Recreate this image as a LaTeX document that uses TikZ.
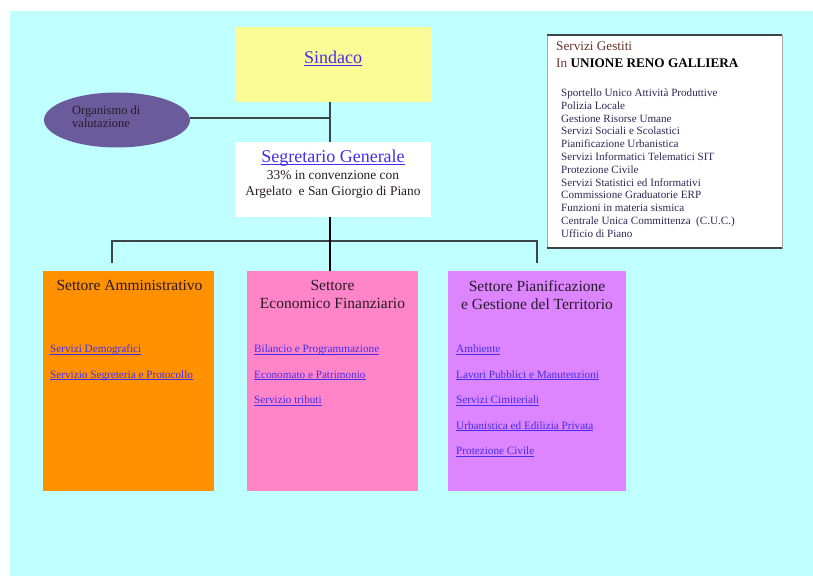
\documentclass[tikz,border=0pt]{standalone}
\usepackage{fontspec}
\setmainfont{Liberation Serif}
\usetikzlibrary{shapes.geometric}

\definecolor{sky}{RGB}{192,255,255}
\definecolor{lemon}{RGB}{250,250,150}
\definecolor{amber}{RGB}{255,145,0}
\definecolor{rose}{RGB}{255,133,200}
\definecolor{lilac}{RGB}{220,133,255}
\definecolor{plum}{RGB}{106,92,156}
\definecolor{href}{RGB}{70,45,235}
\definecolor{ink}{RGB}{40,25,40}
\definecolor{navy}{RGB}{45,40,85}
\definecolor{rust}{RGB}{105,50,40}
\definecolor{steel}{RGB}{60,70,70}

\newcommand{\lnk}[1]{\textcolor{href}{\setbox0=\hbox{#1}\rlap{\rule[-0.3ex]{\wd0}{0.09ex}}\box0}}
\newcommand{\fs}[2]{\fontsize{#1}{#2}\selectfont}

\begin{document}
\begin{tikzpicture}[
        x=1pt, y=-1pt,
        box/.style={rectangle, inner sep=0pt, outer sep=0pt},
        head/.style={anchor=north, align=center, text=ink, inner sep=0pt, font=\fs{15.5}{18}},
        item/.style={anchor=base west, inner sep=0pt, font=\fs{11.2}{13}},
        wire/.style={draw=steel, line width=1.2pt},
    ]

    \useasboundingbox (0,0) rectangle (813,577);
    \fill[sky] (10,11) rectangle (813,576);

    % boxes
    \node[box, fill=lemon, minimum width=196pt, minimum height=75pt] (1) at (333,64.5) {};
    \node[box, fill=white, minimum width=196pt, minimum height=75pt] (2) at (333,179.5) {};
    \node[box, fill=amber, minimum width=171pt, minimum height=220pt] (3) at (128.5,381) {};
    \node[box, fill=rose, minimum width=171pt, minimum height=220pt] (4) at (332.5,381) {};
    \node[box, fill=lilac, minimum width=178pt, minimum height=220pt] (5) at (537,381) {};
    \node[ellipse, fill=plum, inner sep=0pt, minimum width=146pt, minimum height=55pt] (6) at (117,120) {};
    \node[box, fill=white, draw=gray!70, line width=0.8pt, minimum width=235pt, minimum height=213pt] (7) at (664.5,141.5) {};
    \draw[steel, line width=2.4pt] (7.north west) -- (7.north east);
    \draw[steel, line width=2.4pt] (7.south west) -- (7.south east);

    % texts
    \node[anchor=base, inner sep=0pt, font=\fs{18}{20}] (1a) at (333,63.5) {\lnk{Sindaco}};
    \node[anchor=base, inner sep=0pt, font=\fs{18}{20}] (2a) at (333,162.5) {\lnk{Segretario Generale}};
    \node[anchor=north, align=center, text=ink, inner sep=0pt, font=\fs{13.4}{15.5}] (2b) at (333,170.5)
        {33\% in convenzione con\\Argelato\ \ e San Giorgio di Piano};

    \node[head] (3a) at (129.5,280.5) {Settore Amministrativo};
    \node[head] (4a) at (332.5,280.5) {Settore\\Economico Finanziario};
    \node[head] (5a) at (537,280.5) {Settore Pianificazione\\e Gestione del Territorio};

    \node[item] (3b) at (50,352.5) {\lnk{Servizi Demografici}};
    \node[item] (3c) at (50,378) {\lnk{Servizio Segreteria e Protocollo}};
    \node[item] (4b) at (254,352.5) {\lnk{Bilancio e Programmazione}};
    \node[item] (4c) at (254,378) {\lnk{Economato e Patrimonio}};
    \node[item] (4d) at (254,403.5) {\lnk{Servizio tributi}};
    \node[item] (5b) at (456,352.5) {\lnk{Ambiente}};
    \node[item] (5c) at (456,378) {\lnk{Lavori Pubblici e Manutenzioni}};
    \node[item] (5d) at (456,403.5) {\lnk{Servizi Cimiteriali}};
    \node[item] (5e) at (456,429) {\lnk{Urbanistica ed Edilizia Privata}};
    \node[item] (5f) at (456,454.5) {\lnk{Protezione Civile}};

    \node[anchor=north west, align=left, text=ink, inner sep=0pt, font=\fs{12.5}{13}] (6a) at (72,105.5)
        {Organismo di\\valutazione};

    \node[anchor=base west, inner sep=0pt, text=rust, font=\fs{13.2}{15}] (7a) at (556,50.5) {Servizi Gestiti};
    \node[anchor=base west, inner sep=0pt, text=rust, font=\fs{13.2}{15}] (7b) at (556,67.5)
        {In \textcolor{black}{\textbf{UNIONE RENO GALLIERA}}};
    \node[anchor=north west, align=left, text=navy, inner sep=0pt, font=\fs{11.1}{12.8}] (7c) at (561,88.5)
        {Sportello Unico Attività Produttive\\
         Polizia Locale\\
         Gestione Risorse Umane\\
         Servizi Sociali e Scolastici\\
         Pianificazione Urbanistica\\
         Servizi Informatici Telematici SIT\\
         Protezione Civile\\
         Servizi Statistici ed Informativi\\
         Commissione Graduatorie ERP\\
         Funzioni in materia sismica\\
         Centrale Unica Committenza\ \ (C.U.C.)\\
         Ufficio di Piano};

    % connectors
    \coordinate (j1) at (330,118);
    \coordinate (j2) at (112,241);
    \coordinate (j3) at (537,241);
    \coordinate (d1) at (112,263);
    \coordinate (d3) at (537,263);

    \draw[wire] (1.south -| j1) -- (2.north -| j1);
    \draw[wire] (j1 -| 6.east) -- (j1);
    \draw[wire] (d1) -- (j2) -- (j3) -- (d3);
    \draw[wire, draw=black] (2.south -| j1) -- (4.north -| j1);
\end{tikzpicture}
\end{document}
